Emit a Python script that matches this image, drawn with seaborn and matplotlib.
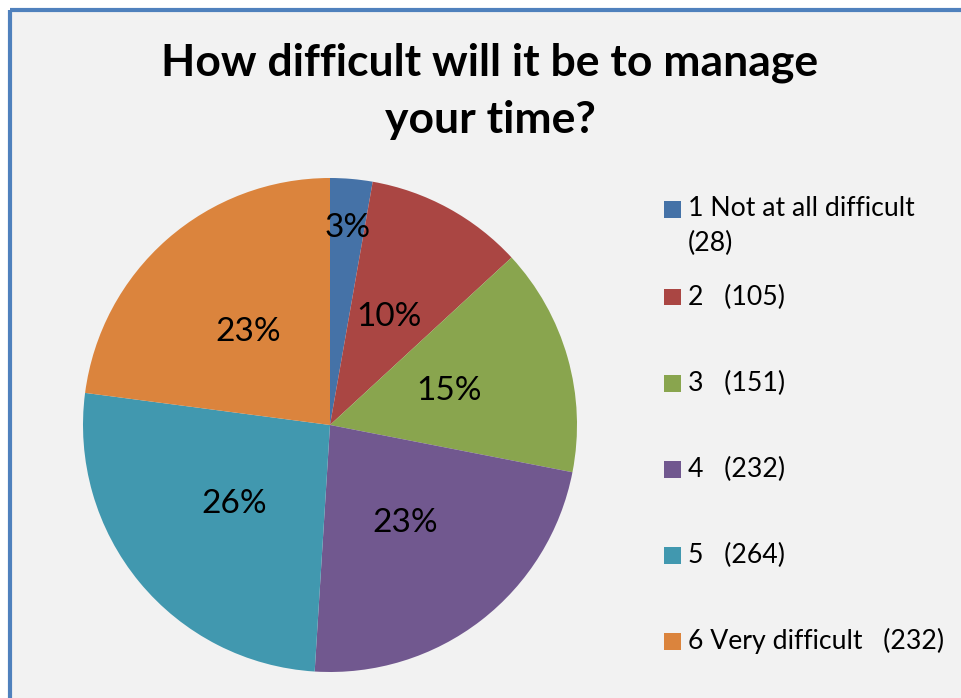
import numpy as np
import seaborn as sns
import matplotlib.pyplot as plt
from matplotlib.patches import Rectangle
from matplotlib.lines import Line2D

categories = ["1 Not at all difficult", "2", "3", "4", "5", "6 Very difficult"]
counts = [28, 105, 151, 232, 264, 232]
legend_labels = ["1 Not at all difficult\n(28)", "2   (105)", "3   (151)",
                 "4   (232)", "5   (264)", "6 Very difficult   (232)"]
colors = ["#4572A7", "#AA4643", "#89A54E", "#71588F", "#4198AF", "#DB843D"]
title = "How difficult will it be to manage\nyour time?"

sns.set_theme(style="white")
plt.rcParams['font.family'] = ['Lato', 'DejaVu Sans']
plt.rcParams['text.color'] = 'black'

fig = plt.figure(figsize=(9.61, 6.98), dpi=100)
fig.patch.set_facecolor("white")

# chart area with blue frame on left/top
W, H = 961, 698
fig.patches.append(Rectangle((10 / W, 0), 1, (H - 10) / H, transform=fig.transFigure,
                             facecolor="#f2f2f2", edgecolor="none", zorder=-5))
fig.lines.append(Line2D([10 / W, 10 / W], [0, (H - 10) / H], transform=fig.transFigure,
                        color="#4F81BD", lw=3, solid_capstyle="butt", zorder=-4))
fig.lines.append(Line2D([10 / W, 1], [(H - 10) / H, (H - 10) / H], transform=fig.transFigure,
                        color="#4F81BD", lw=3, solid_capstyle="butt", zorder=-4))

cx, cy, r = 330, 425, 247
ax = fig.add_axes([(cx - r) / W, (H - cy - r) / H, 2 * r / W, 2 * r / H], zorder=2)
ax.set_facecolor("none")
wedges, texts, autotexts = ax.pie(counts, colors=colors, startangle=90, counterclock=False,
                                  autopct=lambda p: f"{p:.0f}%", pctdistance=0.5,
                                  wedgeprops=dict(edgecolor="none", linewidth=0),
                                  textprops=dict(fontsize=24, color="black"))
# small slice label sits further out
w = wedges[0]
ang = np.deg2rad((w.theta1 + w.theta2) / 2)
autotexts[0].set_position((0.8 * np.cos(ang), 0.8 * np.sin(ang)))
ax.set_xlim(-1, 1)
ax.set_ylim(-1, 1)
ax.set_aspect("equal")
ax.axis("off")

fig.text(490 / W, 1 - 91 / H, title, ha="center", va="center", fontsize=32,
         fontweight="bold", linespacing=1.5)

# legend
ys = [209, 297, 383, 469, 555, 641]
for lab, col, y in zip(legend_labels, colors, ys):
    fig.patches.append(Rectangle((664 / W, 1 - (y + 8.5) / H), 17 / W, 17 / H,
                                 transform=fig.transFigure, facecolor=col, edgecolor="none"))
    for k, line in enumerate(lab.split("\n")):
        fig.text(688 / W, 1 - (y + 34 * k) / H, line, ha="left", va="center", fontsize=19.2)

fig.savefig("out.png", dpi=100, facecolor=fig.get_facecolor())
